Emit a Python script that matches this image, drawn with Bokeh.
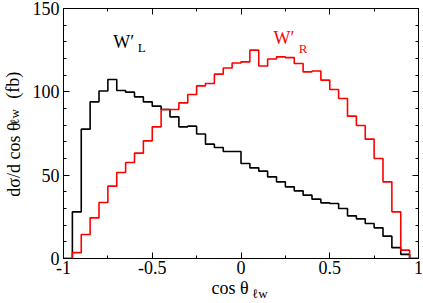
from bokeh.plotting import figure
from bokeh.models import FixedTicker, LinearAxis, Label, Range1d
from bokeh.embed import file_html
from bokeh.resources import INLINE

# ---- data ----
bin_edges = [round(-1 + 0.05 * i, 2) for i in range(41)]
wl_values = [0, 28, 77.6, 94, 100.5, 107.4, 100.8, 99.8, 97, 94,
             91.4, 89.4, 85, 79, 79.4, 74.7, 68.6, 66.6, 64.2, 64.2,
             57, 54.4, 52.4, 49, 46, 43, 40.6, 38, 35.6, 33.4,
             33, 30, 25.6, 23.8, 21, 18.4, 13.4, 6.5, 2.5, 0]
wr_values = [0, 3.5, 14.4, 24.4, 33.6, 43.4, 51.6, 57.6, 63.2, 70.6,
             79, 89.4, 89.4, 93.4, 98.4, 103.6, 105, 110.6, 114.3, 117.3,
             118, 125, 115.5, 119.7, 121, 120.5, 117, 112, 112.5, 107,
             101.4, 96, 85.4, 79.8, 71.6, 60, 46, 28, 5, 0]
x_ticks = [-1, -0.5, 0, 0.5, 1]
x_tick_labels = ["-1", "-0.5", "0", "0.5", "1"]
x_minor = [-0.75, -0.25, 0.25, 0.75]
y_ticks = [0, 50, 100, 150]
y_tick_labels = ["0", "50", "100", "150"]
y_minor = [v for v in range(0, 151, 10) if v % 50 != 0]

FONT = "Liberation Serif"

p = figure(width=423, height=303, output_backend="svg", toolbar_location=None,
           x_range=Range1d(-1, 1), y_range=Range1d(0, 150),
           min_border_left=60, min_border_right=5, min_border_top=8,
           min_border_bottom=45)
p.xgrid.visible = False
p.ygrid.visible = False
p.outline_line_color = "black"
p.background_fill_color = "white"
p.border_fill_color = "white"


def style_main(ax, ticks, minor, labels):
    ax.ticker = FixedTicker(ticks=ticks, minor_ticks=minor)
    ax.major_tick_in = 6
    ax.major_tick_out = 0
    ax.minor_tick_in = 3
    ax.minor_tick_out = 0
    ax.axis_line_color = "black"
    ax.major_label_overrides = {t: l for t, l in zip(ticks, labels)}
    ax.major_label_text_font = FONT
    ax.major_label_text_font_size = "18px"
    ax.major_label_text_color = "black"


style_main(p.xaxis[0], x_ticks, x_minor, x_tick_labels)
p.xaxis[0].major_label_standoff = 2
style_main(p.yaxis[0], y_ticks, y_minor, y_tick_labels)
p.yaxis[0].major_label_standoff = 4


def mirror_axis(side, positions, length):
    # ticks only (no labels): drawn as "minor" ticks of an unlabeled axis
    ax = LinearAxis(ticker=FixedTicker(ticks=[], minor_ticks=positions))
    ax.minor_tick_in = length
    ax.minor_tick_out = 0
    ax.major_tick_in = 0
    ax.major_tick_out = 0
    ax.major_label_standoff = 0
    ax.axis_line_color = "black"
    p.add_layout(ax, side)


mirror_axis("above", x_ticks, 6)
mirror_axis("above", x_minor, 3)
mirror_axis("right", y_ticks, 6)
mirror_axis("right", y_minor, 3)


def text_axis(side, positions, texts, size, standoff, vertical=False):
    # an axis without line or ticks whose tick labels carry the axis title
    ax = LinearAxis(ticker=FixedTicker(ticks=positions, minor_ticks=[]))
    ax.major_label_overrides = {t: s for t, s in zip(positions, texts)}
    ax.axis_line_color = None
    ax.major_tick_line_color = None
    ax.minor_tick_line_color = None
    ax.major_tick_in = 0
    ax.major_tick_out = 0
    ax.minor_tick_in = 0
    ax.minor_tick_out = 0
    ax.major_label_text_font = FONT
    ax.major_label_text_font_size = size
    ax.major_label_text_color = "black"
    ax.major_label_standoff = standoff
    if vertical:
        ax.major_label_orientation = "vertical"
    p.add_layout(ax, side)


# x title: "cos θ" with subscript "ℓw"
text_axis("below", [0.106], ["ℓw"], "13px", 9)
text_axis("below", [-0.0615], ["cos θ"], "18px", -26)
# y title: "dσ/d cos θ" + subscript "ℓw" + "(fb)"
text_axis("left", [59.4, 104.0], ["dσ/d cos θ", "(fb)"], "18px", 6, True)
text_axis("left", [85.0], ["ℓw"], "13px", -22, True)

# histograms
p.step(x=bin_edges, y=wl_values + [wl_values[-1]], mode="after",
       line_color="black", line_width=1.6)
p.step(x=bin_edges, y=wr_values + [wr_values[-1]], mode="after",
       line_color="#ff0000", line_width=1.6)


def lab(x, y, text, size, color="black"):
    p.add_layout(Label(x=x, y=y, text=text, text_font=FONT,
                       text_font_size=size, text_color=color,
                       text_align="left", text_baseline="alphabetic"))


lab(-0.72, 130.0, "W′", "18px")
lab(-0.581, 126.5, "L", "13px")
lab(0.183, 132.5, "W′", "18px", "#ff0000")
lab(0.326, 126.0, "R", "13px", "#ff0000")

open("out.html", "w").write(file_html(p, INLINE))
